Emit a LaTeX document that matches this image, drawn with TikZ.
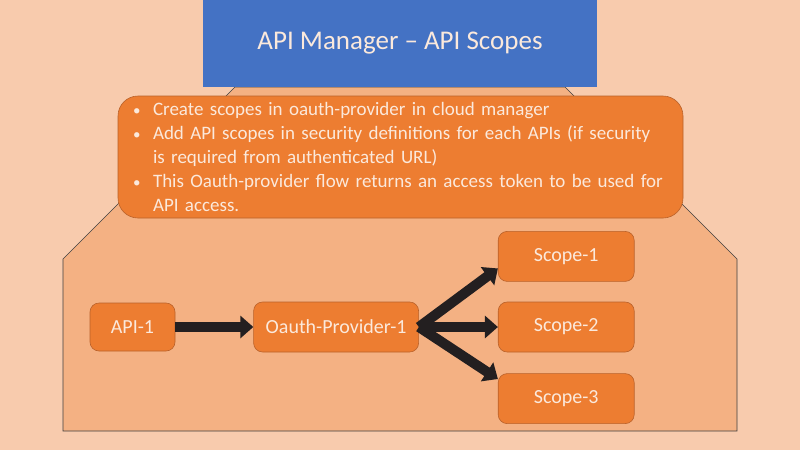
\documentclass[tikz,border=0pt]{standalone}
\usepackage{fontspec}
\setmainfont{Carlito}
\usepackage{xcolor}
\usepackage{tikz}
\usetikzlibrary{arrows.meta,positioning}

\definecolor{peach}{HTML}{F8CBAD}
\definecolor{lightorange}{HTML}{F4B183}
\definecolor{boxorange}{HTML}{ED7D31}
\definecolor{edgeorange}{HTML}{B9612A}
\definecolor{titleblue}{HTML}{4472C4}
\definecolor{cream}{HTML}{FBE9DC}
\definecolor{arrowblack}{HTML}{231F20}

\newcommand{\notebullet}{\makebox[20pt][l]{\fontsize{15}{15}\selectfont\textbullet}}

\begin{document}
\begin{tikzpicture}[x=1pt, y=-1pt,
    stepbox/.style={rectangle, rounded corners=9pt, fill=boxorange, draw=edgeorange, line width=0.6pt,
        text=cream, font=\fontsize{20}{24}\selectfont, minimum height=50pt},
    notebox/.style={rectangle, rounded corners=20pt, fill=boxorange, draw=edgeorange, line width=0.6pt,
        text=cream, font=\fontsize{19}{23.8}\selectfont, text width=535pt, inner xsep=15pt,
        minimum height=122pt, align=left},
    titlebox/.style={rectangle, fill=titleblue, text=cream, font=\fontsize{27}{32}\selectfont,
        minimum width=394pt, minimum height=87pt},
    bigarrow/.style={draw=arrowblack, line width=10pt, -{Triangle[length=13pt,width=22pt]}}]
\fill[peach] (0,0) rectangle (800,450);
\useasboundingbox (0,0) rectangle (800,450);

% panel behind the notes
\draw[fill=lightorange, draw=black!75, line width=0.6pt]
    (63,259) -- (235,87) -- (565,87) -- (737,259) -- (737,431) -- (63,431) -- cycle;

\node[titlebox] (Title) at (400,43.5) {API Manager -- API Scopes};

\node[notebox] (Notes) at (400.5,157) {%
\mbox{\notebullet Create scopes in oauth-provider in cloud manager}\\
\mbox{\notebullet Add API scopes in security definitions for each APIs (if security}\\
\mbox{\hspace*{20pt}is required from authenticated URL)}\\
\mbox{\notebullet This Oauth-provider flow returns an access token to be used for}\\
\mbox{\hspace*{20pt}API access.}};

\node[stepbox, minimum width=85pt, minimum height=48pt] (API) at (132.5,327) {API-1};
\node[stepbox, minimum width=165pt, right=78pt of API] (OauthProvider) {Oauth-Provider-1};
\node[stepbox, minimum width=136pt, right=79pt of OauthProvider] (Scope2) {Scope-2};
\node[stepbox, minimum width=136pt, above=20pt of Scope2] (Scope1) {Scope-1};
\node[stepbox, minimum width=136pt, below=21pt of Scope2] (Scope3) {Scope-3};

\draw[bigarrow] (API) -- (OauthProvider);
\draw[bigarrow] (OauthProvider.east) -- (Scope1.190);
\draw[bigarrow] (OauthProvider.east) -- (Scope2.west);
\draw[bigarrow] (OauthProvider.east) -- (Scope3.164);

\end{tikzpicture}
\end{document}
